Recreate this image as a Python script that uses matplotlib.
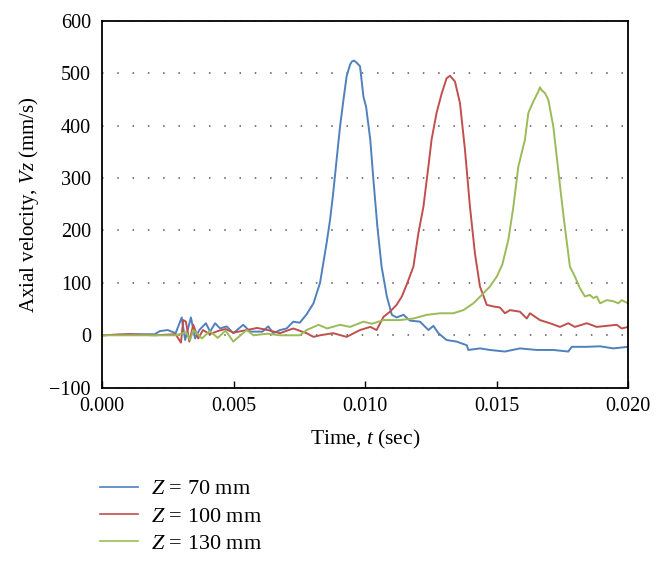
"""Axial velocity traces at three axial positions, Z = 70, 100 and 130 mm."""

import matplotlib
matplotlib.use("Agg")
import matplotlib.pyplot as plt
from matplotlib.lines import Line2D

plt.rcParams["font.family"] = ["Liberation Serif", "DejaVu Serif"]
plt.rcParams["mathtext.fontset"] = "custom"
plt.rcParams["mathtext.rm"] = "Liberation Serif"
plt.rcParams["mathtext.it"] = "Liberation Serif:italic"

# Z = 70 mm
t_70 = [0.0, 0.0010, 0.0020, 0.0022, 0.0025, 0.0028, 0.00303, 0.00316, 0.00338,
        0.00354, 0.0037, 0.00395, 0.00411, 0.0043, 0.00449, 0.00474, 0.00499,
        0.00537, 0.00563, 0.0061, 0.00632, 0.00651, 0.00677, 0.00702, 0.00727,
        0.00752, 0.00778, 0.00804, 0.00829, 0.00854, 0.00867, 0.00879, 0.00892,
        0.00905, 0.00918, 0.0093, 0.00943, 0.00950, 0.00958, 0.00968, 0.00981,
        0.00994, 0.01004, 0.0102, 0.01032, 0.01047, 0.01063, 0.01083, 0.01102,
        0.0112, 0.01146, 0.01171, 0.01209, 0.01241, 0.0126, 0.01279, 0.0131,
        0.01348, 0.01387, 0.01393, 0.01437, 0.01475, 0.01532, 0.01589, 0.01653,
        0.01716, 0.01773, 0.01786, 0.01843, 0.01894, 0.01944, 0.0200]
v_70 = [0, 2, 2, 8, 10, 4, 34, -9, 34, -6, 10, 23, 7, 23, 13, 17, 4, 20, 7, 7,
        17, 4, 10, 13, 26, 24, 40, 61, 100, 176, 220, 271, 335, 398, 449, 494,
        516, 522, 524, 520, 513, 455, 436, 373, 296, 207, 131, 74, 39, 34, 39,
        28, 26, 10, 18, 4, -9, -12, -19, -28, -25, -28, -31, -25, -28, -28,
        -31, -22, -22, -21, -25, -22]

# Z = 100 mm
t_100 = [0.0, 0.0010, 0.0020, 0.0028, 0.00300, 0.00309, 0.00319, 0.00332,
         0.00347, 0.00366, 0.00384, 0.0041, 0.0044, 0.0047, 0.0050, 0.0055,
         0.0059, 0.0063, 0.00677, 0.00727, 0.00778, 0.00804, 0.00829, 0.00879,
         0.0093, 0.00981, 0.0102, 0.01044, 0.0107, 0.01095, 0.0112, 0.0114,
         0.01158, 0.01184, 0.01203, 0.01222, 0.01241, 0.01253, 0.01272, 0.01292,
         0.0131, 0.01323, 0.01342, 0.01361, 0.0138, 0.01399, 0.01418, 0.01437,
         0.01463, 0.01488, 0.01513, 0.01532, 0.01551, 0.01589, 0.01615, 0.01627,
         0.01665, 0.01703, 0.01741, 0.01773, 0.01798, 0.01843, 0.01881, 0.01957,
         0.01976, 0.0200]
v_100 = [0, 2, 0, 2, -14, 29, 26, -12, 20, -6, 10, 2, 8, 12, 5, 10, 14, 10,
         4, 13, 4, -3, 0, 4, -3, 10, 16, 10, 35, 45, 58, 74, 96, 131, 195, 245,
         322, 373, 424, 462, 490, 495, 484, 443, 354, 245, 156, 93, 58, 55, 53,
         42, 48, 45, 32, 42, 29, 23, 16, 23, 16, 23, 16, 20, 13, 16]

# Z = 130 mm
t_130 = [0.0, 0.0010, 0.0020, 0.0028, 0.00320, 0.00335, 0.00347, 0.0038,
         0.0041, 0.0044, 0.0047, 0.00499, 0.0055, 0.00576, 0.00627, 0.00677,
         0.00752, 0.00778, 0.00823, 0.00856, 0.00905, 0.00943, 0.00994, 0.01026,
         0.0107, 0.01133, 0.01184, 0.01235, 0.01285, 0.01336, 0.01374, 0.01412,
         0.01444, 0.01475, 0.01501, 0.01522, 0.01545, 0.01564, 0.01583, 0.01608,
         0.01621, 0.0164, 0.01659, 0.01665, 0.01672, 0.01684, 0.01697, 0.01716,
         0.01736, 0.01755, 0.01779, 0.01798, 0.01817, 0.01836, 0.01855, 0.01868,
         0.01881, 0.01894, 0.01919, 0.01944, 0.01963, 0.01976, 0.0200]
v_130 = [0, 0, 0, 0, 6, -9, 10, -6, 8, -5, 9, -12, 10, 0, 3, 0, 0, 10, 20, 13,
         20, 16, 26, 22, 29, 29, 32, 39, 42, 42, 48, 61, 77, 93, 112, 135, 182,
         245, 322, 373, 424, 446, 465, 473, 467, 462, 449, 398, 309, 226, 131,
         112, 90, 74, 77, 71, 74, 61, 67, 65, 61, 67, 61]

series = [
    (t_70, v_70, "#4F81BD", "$Z$ = 70 mm"),
    (t_100, v_100, "#C0504D", "$Z$ = 100 mm"),
    (t_130, v_130, "#9BBB59", "$Z$ = 130 mm"),
]

fig = plt.figure(figsize=(6.65, 5.62), dpi=100)
ax = fig.add_axes([0.1534, 0.3101, 0.7910, 0.6531])

for t, v, color, label in series:
    ax.plot(t, v, color=color, linewidth=1.4, label=label)

ax.set_xlim(0.0, 0.020)
ax.set_ylim(-100, 600)
ax.set_xticks([0.000, 0.005, 0.010, 0.015, 0.020])
ax.set_xticklabels(["0.000", "0.005", "0.010", "0.015", "0.020"])
ax.set_yticks(range(-100, 601, 100))
ax.set_yticklabels(["\u2212100", "0", "100", "200", "300", "400", "500", "600"])
ax.tick_params(axis="x", direction="in", length=5, width=1, labelsize=14.5, pad=7)
ax.tick_params(axis="y", length=0, labelsize=14.5, pad=8)
ax.yaxis.grid(True, color="#555555", linestyle=(0, (1, 9)), linewidth=1.1)
ax.set_axisbelow(True)
for spine in ax.spines.values():
    spine.set_linewidth(1.3)
    spine.set_color("black")

ax.set_xlabel("Time, $t$ (sec)", fontsize=15.5, labelpad=8)
ax.set_ylabel("Axial velocity, $Vz$ (mm/s)", fontsize=15, labelpad=6)

handles = [Line2D([0], [0], color=c, linewidth=1.2) for _, _, c, _ in series]
labels = [lab for _, _, _, lab in series]
fig.legend(handles, labels, loc="upper left", bbox_to_anchor=(0.150, 0.148),
           frameon=False, fontsize=16, handlelength=1.7, handletextpad=0.6,
           labelspacing=0.3, borderaxespad=0, borderpad=0)

fig.savefig("out.png", dpi=100)
